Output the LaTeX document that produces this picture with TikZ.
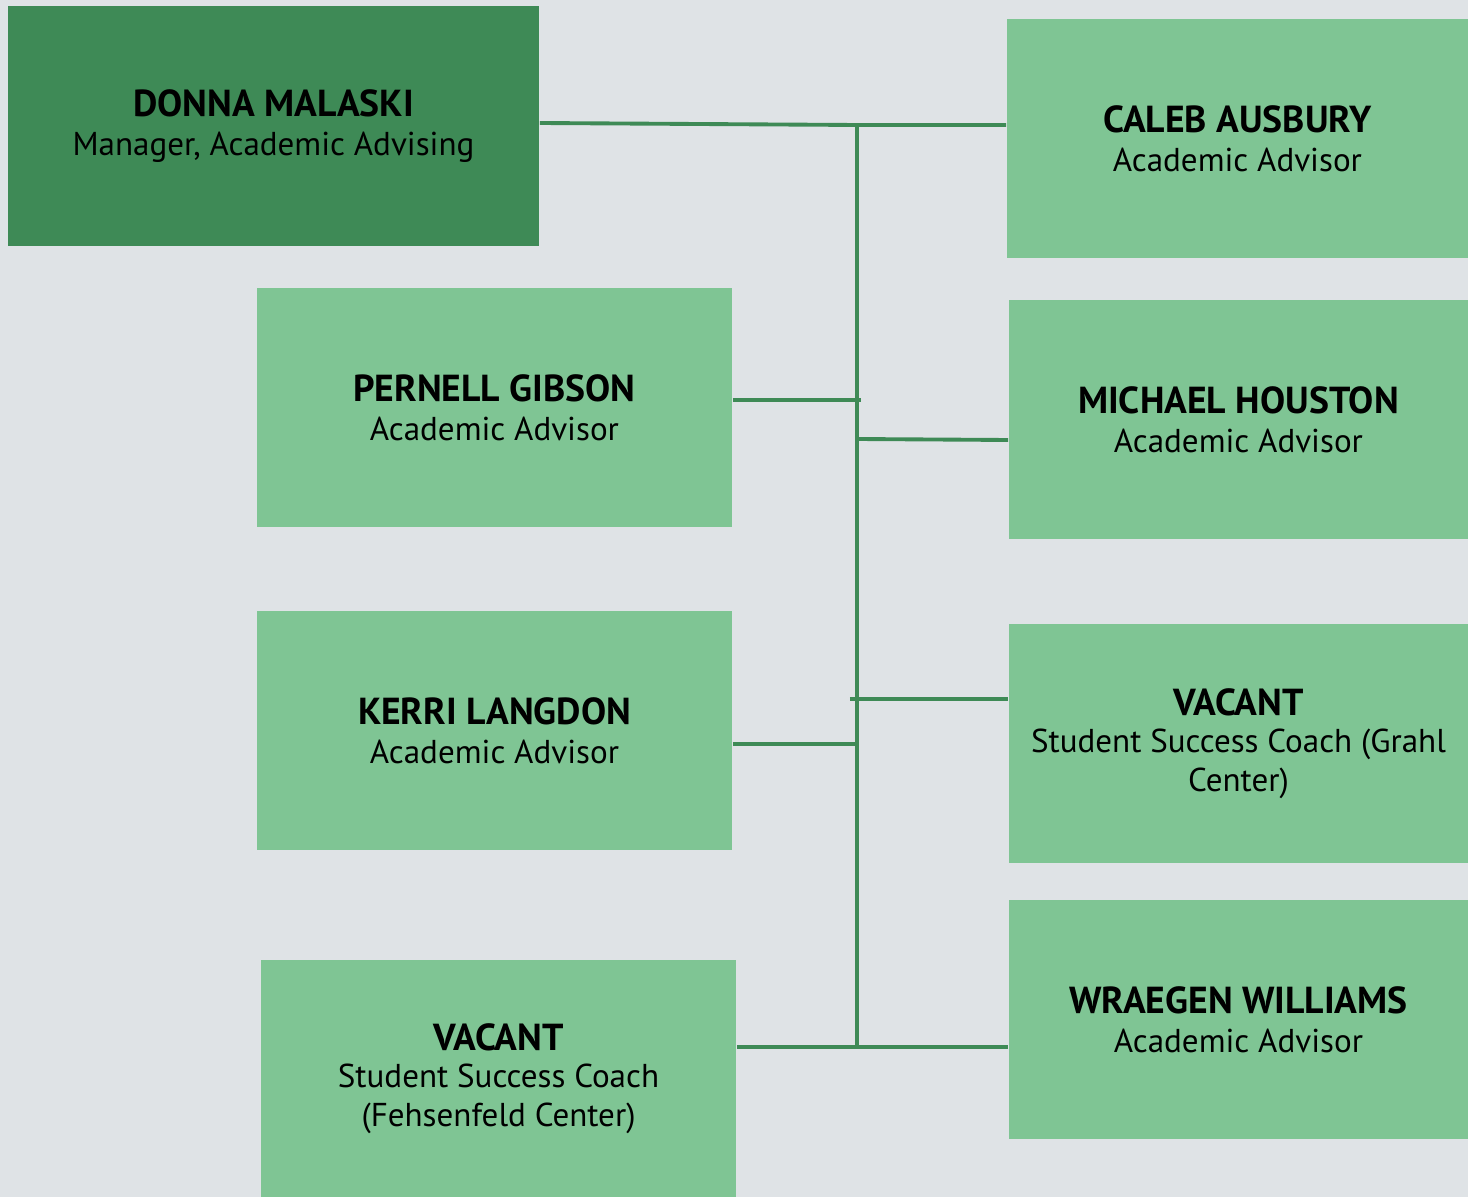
\documentclass[tikz,border=0pt]{standalone}
\usepackage{fontspec}
\setmainfont{PT Sans}
\definecolor{bgcol}{HTML}{DFE3E6}
\definecolor{boss}{HTML}{3E8A56}
\definecolor{staff}{HTML}{7FC594}
\definecolor{wire}{HTML}{3E8A56}
\newcommand{\who}[1]{{\fontsize{10.7}{12}\selectfont\bfseries #1}}
\newcommand{\role}[1]{{\fontsize{9.4}{11.6}\selectfont #1}}
\begin{document}
\begin{tikzpicture}[x=0.01cm,y=-0.01cm,line join=round,
	box/.style={fill=staff,inner sep=0pt,align=center,minimum width=#1,minimum height=2.39cm},
	chief/.style={box=#1,fill=boss},
	link/.style={draw=wire,line width=1.1pt}]
				\fill[bgcol] (0,0) rectangle (1468,1197);
				\useasboundingbox (0,0) rectangle (1468,1197);
				% boxes
				\node[chief=5.31cm] (donna) at (273.5,126) {\who{DONNA MALASKI}\\[-1pt]\role{Manager, Academic Advising}};
				\node[box=4.61cm] (caleb) at (1237.5,138.5) {\who{CALEB AUSBURY}\\[-1pt]\role{Academic Advisor}};
				\node[box=4.75cm] (pernell) at (494.5,407.5) {\who{PERNELL GIBSON}\\[-1pt]\role{Academic Advisor}};
				\node[box=4.59cm] (michael) at (1238.5,419.5) {\who{MICHAEL HOUSTON}\\[-1pt]\role{Academic Advisor}};
				\node[box=4.75cm] (kerri) at (494.5,730.5) {\who{KERRI LANGDON}\\[-1pt]\role{Academic Advisor}};
				\node[box=4.59cm] (grahl) at (1238.5,743.5) {\who{VACANT}\\[-1.5pt]\role{Student Success Coach (Grahl}\\[-1pt]\role{Center)}};
				\node[box=4.59cm] (wraegen) at (1238.5,1019.5) {\who{WRAEGEN WILLIAMS}\\[-1pt]\role{Academic Advisor}};
				\node[box=4.75cm,minimum height=2.37cm] (fehsen) at (498.5,1078.5) {\who{VACANT}\\[-1.5pt]\role{Student Success Coach}\\[-1pt]\role{(Fehsenfeld Center)}};
				% trunk points
				\coordinate (t1) at (857,125);
				\coordinate (t2) at (857,400);
				\coordinate (t3) at (857,439);
				\coordinate (t4) at (857,699);
				\coordinate (t5) at (857,744);
				\coordinate (t6) at (857,1047);
				\draw[link] (t1) -- (t6);
				\draw[link] (donna.east |- 0,123) -- (t1) -- (caleb.west |- t1);
				\draw[link] (pernell.east |- t2) -- ([xshift=1pt]t2);
				\draw[link] (t3) -- (michael.west |- 0,440);
				\draw[link] ([xshift=-2pt]t4) -- (grahl.west |- t4);
				\draw[link] (kerri.east |- t5) -- (t5);
				\draw[link] (fehsen.east |- t6) -- (t6) -- (wraegen.west |- t6);
		\end{tikzpicture}
\end{document}
